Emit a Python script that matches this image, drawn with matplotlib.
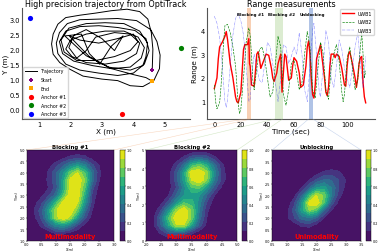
import numpy as np
import matplotlib
matplotlib.use("Agg")
import matplotlib.pyplot as plt
from matplotlib.patches import ConnectionPatch

# trajectory waypoints
traj_x = [4.6,4.62,4.57,4.46,4.2,3.8,3.3,2.8,2.3,1.85,1.6,1.45,1.4,1.45,1.66,1.98,2.4,3.0,3.5,3.9,4.3,4.65,4.83,4.85,4.75,4.55,4.1,3.5,2.9,2.3,1.9,1.65,1.55,1.6,1.85,2.3,2.9,3.5,4.0,4.35,4.5,4.4,4.05,3.5,2.9,2.3,1.85,1.65,1.75,2.1,2.7,3.3,3.9,4.25,4.35,4.15,3.7,3.1,2.5,2.0,1.85,2.05,2.5,3.1,3.7,4.1,4.2,3.9,3.4,2.8,2.5,2.2,1.95,2.1,2.5,3.0,3.4,3.67,3.3,2.93,2.6,2.35,1.82,2.5,3.2,3.9,4.3,
          4.4,4.45,4.2,3.7,3.1,2.5,1.95,1.7,1.8,2.2,2.8,3.4,3.9,4.15,4.0,3.5,2.9,2.3,1.95,2.6,3.3,4.0,4.4,4.6]
traj_y = [1.32,2.0,2.55,3.0,3.25,3.33,3.28,3.2,3.13,3.05,2.83,2.5,2.17,1.83,1.55,1.33,1.1,1.0,0.95,0.78,0.75,0.95,1.35,1.8,2.25,2.65,2.95,3.02,3.0,2.98,2.85,2.55,2.2,1.85,1.5,1.3,1.2,1.12,1.2,1.5,1.95,2.35,2.62,2.72,2.78,2.75,2.6,2.25,1.85,1.6,1.45,1.35,1.4,1.7,2.05,2.4,2.6,2.6,2.5,2.3,2.0,1.75,1.55,1.5,1.6,1.85,2.2,2.5,2.55,2.4,1.95,1.7,2.05,2.45,2.65,2.35,1.95,2.44,2.1,1.5,1.85,2.5,2.44,1.78,1.4,1.3,1.45,
          1.75,2.2,2.6,2.85,2.88,2.85,2.7,2.3,1.9,1.62,1.62,1.75,1.95,2.25,2.5,2.35,2.2,2.3,2.45,1.75,1.35,1.15,1.05,0.93]
start_xy = (4.6, 1.32)
end_xy = (4.6, 0.93)
anchor1 = (3.65, -0.17)
anchor2 = (5.52, 2.03)
anchor3 = (0.7, 3.05)

t1 = [0,2,3,4,6,8,9,10,12,14,16,17,18,20,21,22,23,25,26,26.5,27,28,30,31,32,33,34,35,37,39,41,43,44,45,47,48,50,51,53,54,56,58,59,60,62,64,65,67,69,70,71,72,73,74,75,76,77,78,80,81,83,84,85,86,87,88,90,91,92,94,96,98,99,100,101,102,104,106,107,108,109,110,111,112,113,114]
uwb1 = [1.55,2.0,2.8,3.3,3.5,3.75,3.95,3.6,2.6,2.0,1.2,1.0,0.95,1.4,2.3,3.2,3.4,3.4,3.65,2.6,2.5,1.7,1.65,2.3,3.0,3.1,2.8,2.4,2.7,3.0,2.95,2.4,2.0,1.85,2.2,2.6,3.0,1.4,3.0,2.9,1.9,2.0,2.5,2.85,2.7,2.2,1.6,1.7,2.5,3.3,3.55,3.0,2.0,1.3,1.15,1.7,2.8,3.0,3.4,2.9,2.0,1.4,1.25,1.6,2.5,3.0,3.0,2.85,3.0,2.9,2.4,1.7,1.65,2.5,3.0,3.1,2.6,2.0,1.6,2.0,2.6,2.85,2.9,1.8,1.2,0.95]
t2 = [0,1,2,4,5,6,7,8,10,12,14,16,17,18,19,20,22,24,26,27,28,29,30,32,34,36,38,40,42,44,46,48,50,52,54,56,58,60,62,64,66,68,70,72,74,76,78,80,82,84,86,88,90,92,94,96,97,98,100,102,104,106,108,110,111,112,113,114]
uwb2 = [1.7,1.0,0.7,0.95,1.6,2.5,3.5,4.2,4.25,3.9,3.3,2.5,1.7,0.9,0.5,0.7,2.0,3.5,4.1,3.8,3.0,1.9,1.5,2.4,3.2,3.3,2.8,2.0,1.2,1.4,2.6,3.75,3.3,1.3,0.85,1.5,2.6,2.75,2.2,1.5,1.8,3.0,3.95,3.3,1.5,1.15,2.4,3.5,3.0,1.5,1.1,2.4,3.0,3.4,2.7,1.4,1.0,1.3,2.8,3.3,2.4,1.5,1.9,3.3,3.9,3.0,2.0,2.3]
t3 = [0,2,4,6,8,9,10,12,14,16,18,20,22,24,26,27,28,30,32,34,36,38,40,42,44,46,48,50,52,54,56,58,60,62,64,66,68,70,72,74,75,77,79,80,82,84,86,88,90,92,94,96,98,100,102,104,106,108,110,112,114]
uwb3 = [4.6,4.3,3.7,2.5,1.0,0.75,1.1,2.5,3.8,4.5,4.7,4.4,3.8,2.5,1.0,1.1,2.0,3.0,2.4,1.9,1.8,2.6,3.5,3.3,2.6,1.8,1.0,2.0,3.4,3.3,2.6,2.9,3.3,3.0,3.9,3.0,1.5,1.0,2.5,4.0,4.3,3.0,1.4,1.2,2.5,4.0,3.5,2.0,1.6,2.5,3.6,3.2,2.4,2.0,1.6,2.4,3.3,3.9,2.6,1.6,2.9]

block1_x = np.linspace(0, 3, 13)
block1_y = np.linspace(1, 5, 13)
block1_z = [
 [0,0,0,0,0,0,0,0,0,0,0,0,0],
 [0,0,0,.03,.12,.12,.07,.02,0,0,0,0,0],
 [0,0,.12,.28,.45,.5,.38,.2,.06,0,0,0,0],
 [0,.06,.22,.5,.85,1.0,.85,.5,.22,.05,0,0,0],
 [0,.1,.25,.55,.88,1.0,1.0,.75,.35,.1,0,0,0],
 [0,.05,.17,.38,.65,.95,1.0,.9,.5,.14,0,0,0],
 [0,0,.07,.17,.35,.68,1.0,1.0,.6,.18,.02,0,0],
 [0,0,.03,.1,.23,.55,.95,1.0,.7,.24,.05,0,0],
 [0,0,.03,.12,.28,.55,.95,1.0,.8,.35,.1,0,0],
 [0,0,.01,.12,.28,.48,.75,.9,.7,.36,.12,0,0],
 [0,0,0,.05,.15,.28,.42,.52,.42,.22,.09,0,0],
 [0,0,0,0,.02,.07,.13,.16,.13,.06,.02,0,0],
 [0,0,0,0,0,0,0,0,0,0,0,0,0]]

block2_x = np.linspace(2, 5, 13)
block2_y = np.linspace(0, 5, 13)
block2_z = [
 [0,0,0,0,0,0,0,0,0,0,0,0,0],
 [0,.03,.12,.25,.3,.25,.12,.03,0,0,0,0,0],
 [0,.08,.3,.6,.88,.88,.55,.25,.07,0,0,0,0],
 [0,.08,.35,.72,1.0,1.0,.78,.35,.1,0,0,0,0],
 [0,.03,.2,.5,.85,1.0,.78,.4,.12,.01,0,0,0],
 [0,0,.07,.25,.5,.7,.65,.45,.18,.04,0,0,0],
 [0,0,.01,.1,.3,.5,.55,.5,.3,.1,.02,0,0],
 [0,0,0,.05,.2,.45,.7,.72,.5,.25,.07,0,0],
 [0,0,0,.05,.25,.55,.9,1.0,.8,.4,.15,.02,0],
 [0,0,0,.05,.25,.55,1.0,1.0,.85,.45,.15,.02,0],
 [0,0,0,.03,.15,.35,.65,.75,.6,.35,.12,.01,0],
 [0,0,0,0,.03,.12,.25,.3,.25,.12,.03,0,0],
 [0,0,0,0,0,0,0,0,0,0,0,0,0]]

unblock_x = np.linspace(0.5, 3.5, 13)
unblock_y = np.linspace(0, 4, 13)
unblock_z = [
 [0,0,0,0,0,0,0,0,0,0,0,0,0],
 [0,0,0,0,0,0,0,0,0,0,0,0,0],
 [0,0,0,.04,.12,.13,.06,.01,0,0,0,0,0],
 [0,0,.08,.2,.35,.4,.28,.1,.02,0,0,0,0],
 [0,0,.07,.25,.55,.8,.7,.32,.1,.01,0,0,0],
 [0,0,.02,.18,.5,.95,1.0,.7,.25,.06,0,0,0],
 [0,0,0,.07,.3,.65,.9,.78,.4,.14,.02,0,0],
 [0,0,0,.01,.1,.3,.5,.55,.4,.2,.06,0,0],
 [0,0,0,0,.02,.1,.22,.32,.3,.2,.09,0,0],
 [0,0,0,0,0,.01,.06,.12,.15,.12,.04,0,0],
 [0,0,0,0,0,0,0,.01,.02,.01,0,0,0],
 [0,0,0,0,0,0,0,0,0,0,0,0,0],
 [0,0,0,0,0,0,0,0,0,0,0,0,0]]

W = 381.0
H = 253.0
def box(l, t, r, b):
    return [l/W, 1-b/H, (r-l)/W, (b-t)/H]

fig = plt.figure(figsize=(3.81, 2.53), dpi=100)

# top left
ax = fig.add_axes(box(22, 9, 190, 120))
ax.plot(traj_x, traj_y, color='black', lw=0.7, label='Trajectory')
ax.scatter(*start_xy, color='purple', marker='P', s=7, label='Start', zorder=3, linewidths=0)
ax.scatter(*end_xy, color='orange', marker='s', s=6, label='End', zorder=3, linewidths=0)
ax.scatter(*anchor1, color='red', s=14, label='Anchor #1', zorder=3, linewidths=0)
ax.scatter(*anchor2, color='green', s=14, label='Anchor #2', zorder=3, linewidths=0)
ax.scatter(*anchor3, color='blue', s=14, label='Anchor #3', zorder=3, linewidths=0)
ax.set_xlim(0.46, 5.8)
ax.set_ylim(-0.33, 3.37)
ax.set_xticks([1, 2, 3, 4, 5])
ax.set_yticks([0, 0.5, 1, 1.5, 2, 2.5, 3])
ax.set_yticklabels(['0.0', '0.5', '1.0', '1.5', '2.0', '2.5', '3.0'])
ax.tick_params(labelsize=4.8, length=0, pad=1.5)
ax.set_xlabel('X (m)', fontsize=5.2, labelpad=0.5)
ax.set_ylabel('Y (m)', fontsize=5.2, labelpad=0.5)
ax.set_title('High precision trajectory from OptiTrack', fontsize=5.8, pad=1.2)
ax.legend(loc='lower left', fontsize=3.4, borderaxespad=0.2, labelspacing=0.75, handlelength=2.6)
ax.spines['top'].set_visible(False)
ax.spines['right'].set_visible(False)
ax.spines['left'].set_color('#555555')
ax.spines['bottom'].set_color('#555555')

# top right
ax2 = fig.add_axes(box(207, 9, 375, 120))
ax2.axvspan(24.4, 27.4, color='#f4b183', alpha=0.6, lw=0)
ax2.axvspan(45.6, 51.4, color='#a9d18e', alpha=0.4, lw=0)
ax2.axvspan(71, 74.2, color='#8faadc', alpha=0.7, lw=0)
ax2.plot(t1, uwb1, color='red', lw=1.0, label='UWB1')
ax2.plot(t2, uwb2, color='green', lw=0.45, ls='--', label='UWB2')
ax2.plot(t3, uwb3, color='blue', lw=0.35, ls='-.', alpha=0.5, label='UWB3')
ax2.set_xlim(-5.5, 121)
ax2.set_ylim(0.27, 4.94)
ax2.set_xticks([0, 20, 40, 60, 80, 100])
ax2.set_yticks([1, 2, 3, 4])
ax2.tick_params(labelsize=4.8, length=0, pad=1.5)
ax2.set_xlabel('Time (sec)', fontsize=5.2, labelpad=0.5)
ax2.set_ylabel('Range (m)', fontsize=5.2, labelpad=2)
ax2.set_title('Range measurements', fontsize=5.8, pad=1.2)
ax2.legend(loc='upper right', fontsize=3.4, borderaxespad=0.2, labelspacing=0.75, handlelength=2.6)
ax2.text(27.6, 4.68, 'Blocking #1', fontsize=2.9, fontweight='bold', ha='center', va='center')
ax2.text(50.9, 4.68, 'Blocking #2', fontsize=2.9, fontweight='bold', ha='center', va='center')
ax2.text(73.5, 4.68, 'Unblocking', fontsize=2.9, fontweight='bold', ha='center', va='center')
ax2.spines['top'].set_visible(False)
ax2.spines['right'].set_visible(False)
ax2.spines['left'].set_color('#555555')
ax2.spines['bottom'].set_color('#555555')

# density panels
levels = np.linspace(0, 1, 11)
def density(rect, cbar_rect, xs, ys, zs, xticks, yticks, yfmt, title, note):
    a = fig.add_axes(box(*rect))
    cs = a.contourf(xs, ys, np.array(zs), levels=levels, cmap='viridis')
    a.set_xticks(xticks)
    a.set_yticks(yticks)
    a.set_xticklabels(['%.1f' % v for v in xticks])
    a.set_yticklabels([yfmt % v for v in yticks])
    a.tick_params(labelsize=2.4, length=0.8, width=0.3, pad=0.6)
    a.set_xlabel('X(m)', fontsize=2.4, labelpad=0.5)
    a.set_ylabel('Y(m)', fontsize=2.4, labelpad=0.5)
    a.set_title(title, fontsize=3.9, fontweight='bold', pad=1.5)
    a.text(0.5, 0.05, note, color='red', fontsize=4.8, fontweight='bold',
           ha='center', va='center', transform=a.transAxes)
    for s in a.spines.values():
        s.set_linewidth(0.3)
    c = fig.add_axes(box(*cbar_rect))
    cb = fig.colorbar(cs, cax=c)
    cb.set_ticks([0, 0.2, 0.4, 0.6, 0.8, 1.0])
    cb.ax.tick_params(labelsize=2.4, length=0.8, width=0.3, pad=0.6)
    cb.outline.set_linewidth(0.3)
    return a

pa = density((26.7, 151, 114, 241.5), (120, 151, 125, 241.5), block1_x, block1_y, block1_z,
             np.arange(0, 3.1, 0.5), np.arange(1, 5.1, 0.5), '%.1f', 'Blocking #1', 'Multimodality')
pb = density((146, 151, 237.3, 241.5), (242.3, 151, 246.7, 241.5), block2_x, block2_y, block2_z,
             np.arange(2, 5.1, 0.5), np.arange(0, 5.1, 1), '%d', 'Blocking #2', 'Multimodality')
pc = density((272.3, 151, 361, 241.5), (366.3, 151, 371, 241.5), unblock_x, unblock_y, unblock_z,
             np.arange(0.5, 3.6, 0.5), np.arange(0, 4.1, 0.5), '%.1f', 'Unblocking', 'Unimodality')

# faint lines from the bands down to the panels
links = [(pa, 24.4, 27.4, '#f4b183'), (pb, 45.6, 51.4, '#a9d18e'), (pc, 71, 74.2, '#8faadc')]
for a, x0, x1, col in links:
    for xa, xb in [(0, x0), (1, x1)]:
        con = ConnectionPatch(xyA=(xa, 1), coordsA=a.transAxes, xyB=(xb, 0.27), coordsB=ax2.transData,
                              color=col, lw=0.4, alpha=0.5)
        fig.add_artist(con)

fig.savefig('out.png', dpi=100)
